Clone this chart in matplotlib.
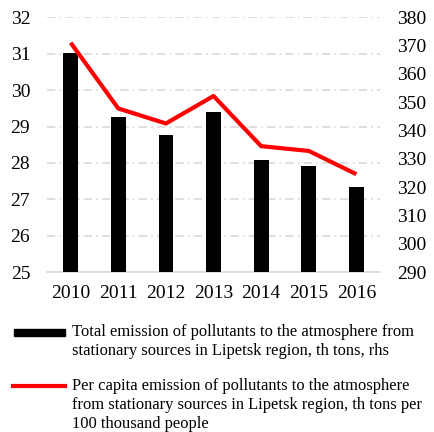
import matplotlib
matplotlib.use("Agg")
import matplotlib.pyplot as plt
from matplotlib.lines import Line2D
from matplotlib.patches import Rectangle

years = ["2010", "2011", "2012", "2013", "2014", "2015", "2016"]
total_emission = [31.03, 29.25, 28.78, 29.39, 28.09, 27.92, 27.35]
per_capita = [371.0, 347.8, 342.5, 352.2, 334.5, 332.8, 324.6]

label_total = ["Total emission of pollutants to the atmosphere from",
               "stationary sources in Lipetsk region, th tons, rhs"]
label_capita = ["Per capita emission of pollutants to the atmosphere",
                "from stationary sources in Lipetsk region, th tons per",
                "100 thousand people"]

plt.rcParams['font.family'] = ['Liberation Serif', 'DejaVu Serif']

W, H = 434, 432
fig = plt.figure(figsize=(W / 100, H / 100), dpi=100)
ax = fig.add_axes([0.108, 0.370, 0.768, 0.590])
ax2 = ax.twinx()

x = range(len(years))
ax.bar(x, total_emission, width=0.31, color="black", zorder=3)
ax2.plot(x, per_capita, color="#ff0000", lw=3.0, solid_capstyle="butt", zorder=4)

ax.set_xlim(-0.5, len(years) - 0.5)
ax.set_ylim(25, 32)
ax.set_yticks(range(25, 33))
ax2.set_ylim(290, 380)
ax2.set_yticks(range(290, 381, 10))
ax.set_xticks(list(x))
ax.set_xticklabels(years)

ax.yaxis.grid(True, color="#d9d9d9", lw=1.2, linestyle=(0, (5, 2.5, 1, 2.5)), zorder=0)
ax.set_axisbelow(True)

for a in (ax, ax2):
    for s in ("top", "left", "right", "bottom"):
        a.spines[s].set_visible(False)
ax.spines["bottom"].set_visible(True)
ax.spines["bottom"].set_color("#d9d9d9")
ax.spines["bottom"].set_linewidth(1.2)

ax.tick_params(axis="both", length=0, labelsize=14)
ax.tick_params(axis="y", pad=12)
ax.tick_params(axis="x", pad=9)
ax2.tick_params(axis="y", length=0, labelsize=14, pad=12)

# legend drawn by hand so the keys sit on the first line of each label
step = 19.0
fig.patches.append(Rectangle((14 / W, 1 - 335.5 / H), 51 / W, 7 / H,
                             transform=fig.transFigure, color="black"))
fig.lines.append(Line2D([13 / W, 65 / W], [1 - 386 / H, 1 - 386 / H],
                        transform=fig.transFigure, color="#ff0000", lw=3.0))
for y0, lines in ((332, label_total), (386, label_capita)):
    for i, line in enumerate(lines):
        fig.text(72 / W, 1 - (y0 + i * step) / H, line, fontsize=11.9,
                 va="center", ha="left")

fig.savefig("out.png", dpi=100)
